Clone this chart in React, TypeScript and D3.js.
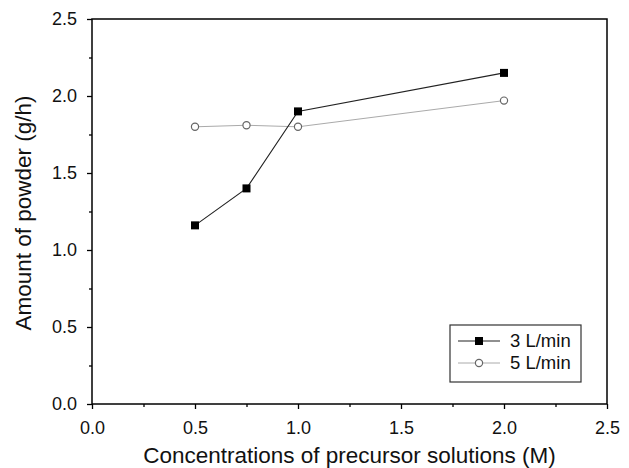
import React, { useEffect, useRef } from 'react'
import * as d3 from 'd3'

// data
const concentrations = [0.5, 0.75, 1.0, 2.0]
const flow3 = [1.16, 1.4, 1.9, 2.15]
const flow5 = [1.8, 1.81, 1.8, 1.97]
const seriesNames = ['3 L/min', '5 L/min']
const xTicks = [0, 0.5, 1.0, 1.5, 2.0, 2.5]
const yTicks = [0, 0.5, 1.0, 1.5, 2.0, 2.5]

const W = 629
const H = 468
const FONT = "'Liberation Sans', Arial, Helvetica, sans-serif"

const App = () => {
  const svgRef = useRef<SVGSVGElement>(null)

  useEffect(() => {
    const svg = d3.select(svgRef.current)
    svg.selectAll('*').remove()

    const margin = { top: 19, right: 22, bottom: 64, left: 92 }
    const w = W - margin.left - margin.right
    const h = H - margin.top - margin.bottom

    const x = d3.scaleLinear().domain([0, 2.5]).range([0, w])
    const y = d3.scaleLinear().domain([0, 2.5]).range([h, 0])

    const g = svg
      .append('g')
      .attr('transform', `translate(${margin.left},${margin.top})`)

    // minor ticks
    const minor = d3.range(0.25, 2.5, 0.5)
    const xMinor = d3.axisBottom(x).tickValues(minor).tickSize(3).tickFormat(() => '')
    const yMinor = d3.axisLeft(y).tickValues(minor).tickSize(3).tickFormat(() => '')

    const xAxis = d3
      .axisBottom(x)
      .tickValues(xTicks)
      .tickSize(5)
      .tickPadding(12)
      .tickFormat(d3.format('.1f'))
    const yAxis = d3
      .axisLeft(y)
      .tickValues(yTicks)
      .tickSize(5)
      .tickPadding(10)
      .tickFormat(d3.format('.1f'))

    const gx = g.append('g').attr('transform', `translate(0,${h})`).call(xAxis)
    g.append('g').attr('transform', `translate(0,${h})`).call(xMinor).select('.domain').remove()
    const gy = g.append('g').call(yAxis)
    g.append('g').call(yMinor).select('.domain').remove()

    ;[gx, gy].forEach((a) => {
      a.select('.domain').remove()
      a.selectAll('text')
        .attr('font-family', FONT)
        .attr('font-size', 18)
        .attr('fill', '#111')
    })
    g.selectAll('.tick line').attr('stroke', '#000').attr('stroke-width', 1.3)

    // frame
    g.append('rect')
      .attr('width', w)
      .attr('height', h)
      .attr('fill', 'none')
      .attr('stroke', '#000')
      .attr('stroke-width', 1.5)

    const line = d3
      .line<[number, number]>()
      .x((d) => x(d[0]))
      .y((d) => y(d[1]))

    const pts3 = concentrations.map((c, i) => [c, flow3[i]] as [number, number])
    const pts5 = concentrations.map((c, i) => [c, flow5[i]] as [number, number])

    g.append('path')
      .attr('d', line(pts5))
      .attr('fill', 'none')
      .attr('stroke', '#aaa')
      .attr('stroke-width', 1)
    g.append('path')
      .attr('d', line(pts3))
      .attr('fill', 'none')
      .attr('stroke', '#222')
      .attr('stroke-width', 1.1)

    g.selectAll('.c5')
      .data(pts5)
      .enter()
      .append('circle')
      .attr('cx', (d) => x(d[0]))
      .attr('cy', (d) => y(d[1]))
      .attr('r', 3.6)
      .attr('fill', '#fff')
      .attr('stroke', '#666')
      .attr('stroke-width', 1.2)

    g.selectAll('.s3')
      .data(pts3)
      .enter()
      .append('rect')
      .attr('x', (d) => x(d[0]) - 4)
      .attr('y', (d) => y(d[1]) - 4)
      .attr('width', 8)
      .attr('height', 8)
      .attr('fill', '#000')

    // legend
    const lg = g.append('g').attr('transform', `translate(${450 - margin.left},${325 - margin.top})`)
    lg.append('rect')
      .attr('width', 131)
      .attr('height', 57)
      .attr('fill', '#fff')
      .attr('stroke', '#333')
      .attr('stroke-width', 1.2)

    seriesNames.forEach((name, i) => {
      const cy = 16 + i * 22
      lg.append('line')
        .attr('x1', 8)
        .attr('x2', 50)
        .attr('y1', cy)
        .attr('y2', cy)
        .attr('stroke', i === 0 ? '#222' : '#aaa')
        .attr('stroke-width', i === 0 ? 1.1 : 1)
      if (i === 0) {
        lg.append('rect')
          .attr('x', 25)
          .attr('y', cy - 4)
          .attr('width', 8)
          .attr('height', 8)
          .attr('fill', '#000')
      } else {
        lg.append('circle')
          .attr('cx', 29)
          .attr('cy', cy)
          .attr('r', 3.6)
          .attr('fill', '#fff')
          .attr('stroke', '#666')
          .attr('stroke-width', 1.2)
      }
      lg.append('text')
        .attr('x', 60)
        .attr('y', cy)
        .attr('dy', '0.35em')
        .attr('font-family', FONT)
        .attr('font-size', 18.5)
        .attr('fill', '#111')
        .text(name)
    })

    // axis titles
    svg
      .append('text')
      .attr('x', margin.left + w / 2)
      .attr('y', 463)
      .attr('text-anchor', 'middle')
      .attr('font-family', FONT)
      .attr('font-size', 22.5)
      .attr('fill', '#111')
      .text('Concentrations of precursor solutions (M)')

    svg
      .append('text')
      .attr('transform', `translate(31,213) rotate(-90)`)
      .attr('text-anchor', 'middle')
      .attr('font-family', FONT)
      .attr('font-size', 22.5)
      .attr('fill', '#111')
      .text('Amount of powder (g/h)')
  }, [])

  return (
    <svg
      ref={svgRef}
      width={W}
      height={H}
      style={{ position: 'absolute', left: 0, top: 0, background: '#fff' }}
    />
  )
}

export default App
